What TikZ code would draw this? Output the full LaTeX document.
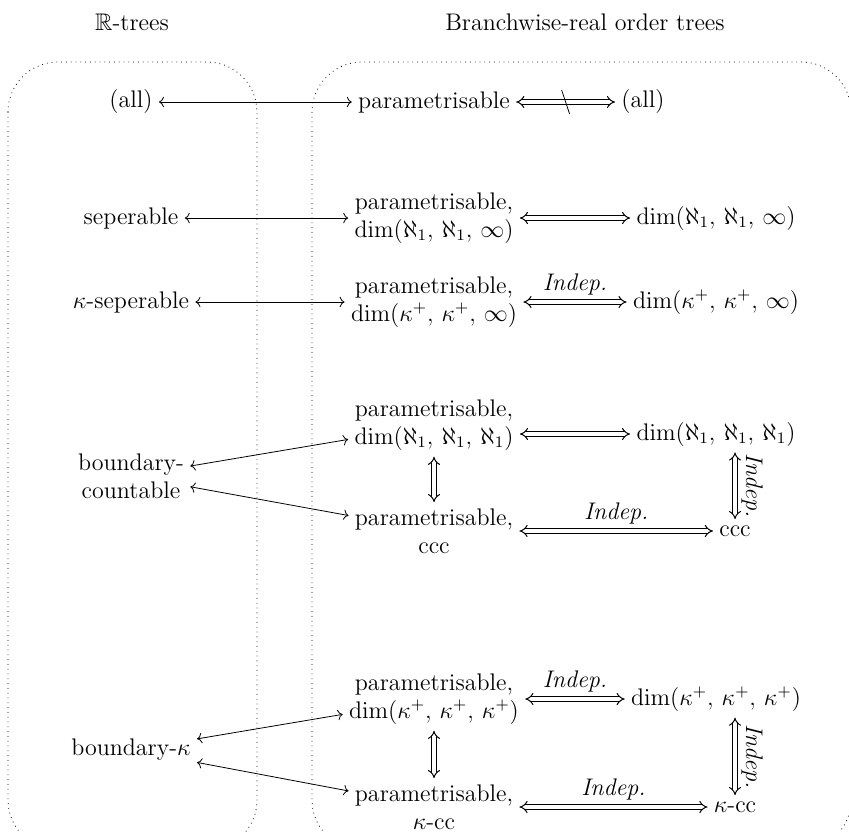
\documentclass[tikz,border=0pt]{standalone}
\usepackage{amssymb}
\usetikzlibrary{arrows.meta}
\tikzset{
	obj/.style={inner sep=3pt, align=center},
	iff/.style={{To}-{To}},
	dimp/.style={double, line width=0.5pt, double distance=1.6pt, {Implies}-{Implies}},
	lab/.style={above, inner sep=3pt},
	group/.style={dotted, rounded corners=25pt}
}
\begin{document}
\begin{tikzpicture}[x=0.5pt, y=-0.5pt, font=\fontsize{12}{14}\selectfont]
				\useasboundingbox (0,0) rectangle (849,831);
				% the two classes
				\draw[group] (8,62) rectangle (257,850);
				\draw[group] (312,62) rectangle (851,850);
				\node (rtitle) at (132,22) {$\mathbb{R}$-trees};
				\node (btitle) at (585,22) {Branchwise-real order trees};
				% first row
				\node[obj] (all1) at (131,102) {(all)};
				\node[obj] (par1) at (434,102) {parametrisable};
				\node[obj] (all2) at (643,102) {(all)};
				\draw[iff] (all1) -- (par1);
				\draw[dimp] (par1) -- coordinate[midway] (cut) (all2);
				\draw ([shift={(-4,-12)}]cut) -- ([shift={(4,12)}]cut);
				% separable
				\node[obj] (sep) at (131,218) {seperable};
				\node[obj] (par2) at (434,218) {parametrisable,\\ $\dim(\aleph_1,\,\aleph_1,\,\infty)$};
				\node[obj] (dim2) at (716,218) {$\dim(\aleph_1,\,\aleph_1,\,\infty)$};
				\draw[iff] (sep) -- (par2);
				\draw[dimp] (par2) -- (dim2);
				% kappa-separable
				\node[obj] (ksep) at (131,302) {$\kappa$-seperable};
				\node[obj] (par3) at (434,302) {parametrisable,\\ $\dim(\kappa^+,\,\kappa^+,\,\infty)$};
				\node[obj] (dim3) at (716,302) {$\dim(\kappa^+,\,\kappa^+,\,\infty)$};
				\draw[iff] (ksep) -- (par3);
				\draw[dimp] (par3) -- node[lab] {\textit{Indep.}} (dim3);
				% boundary-countable
				\node[obj] (bcount) at (131,476) {boundary-\\ countable};
				\node[obj] (par4) at (434,425) {parametrisable,\\ $\dim(\aleph_1,\,\aleph_1,\,\aleph_1)$};
				\node[obj] (dim4) at (716,434) {$\dim(\aleph_1,\,\aleph_1,\,\aleph_1)$};
				\node[obj] (cc4) at (434,531) {parametrisable,\\ ccc};
				\node[obj] (ccc) at (735,531) {ccc};
				\draw[iff] (bcount) -- (par4);
				\draw[iff] (bcount) -- (cc4);
				\draw[dimp] (par4.east |- dim4) -- (dim4);
				\draw[dimp] (par4) -- (cc4);
				\draw[dimp] (cc4) -- node[lab] {\textit{Indep.}} (ccc);
				\draw[dimp] (dim4.south -| ccc) -- node[lab, sloped] {\textit{Indep.}} (ccc);
				% boundary-kappa
				\node[obj] (bkap) at (131,750) {boundary-$\kappa$};
				\node[obj] (par5) at (434,699) {parametrisable,\\ $\dim(\kappa^+,\,\kappa^+,\,\kappa^+)$};
				\node[obj] (dim5) at (716,699) {$\dim(\kappa^+,\,\kappa^+,\,\kappa^+)$};
				\node[obj] (cc5) at (434,807) {parametrisable,\\ $\kappa$-cc};
				\node[obj] (kcc) at (735,807) {$\kappa$-cc};
				\draw[iff] (bkap) -- (par5);
				\draw[iff] (bkap) -- (cc5);
				\draw[dimp] (par5) -- node[lab] {\textit{Indep.}} (dim5);
				\draw[dimp] (par5) -- (cc5);
				\draw[dimp] (cc5) -- node[lab] {\textit{Indep.}} (kcc);
				\draw[dimp] (dim5.south -| kcc) -- node[lab, sloped] {\textit{Indep.}} (kcc);
			\end{tikzpicture}
\end{document}
